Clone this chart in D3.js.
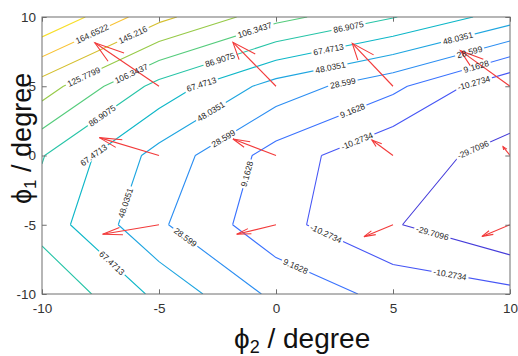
<!DOCTYPE html>
<html><head><meta charset="utf-8">
<script src="https://cdn.jsdelivr.net/npm/d3@7"></script>
<style>
body{margin:0;background:#fff}
svg{display:block}
text{font-family:"Liberation Sans",Arial,Helvetica,sans-serif}
</style>
</head><body>
<svg id="c" width="518" height="356"></svg>
<script>
// ---------- data ----------
const xGrid = [-10, -5, 0, 5, 10];
const yGrid = [-10, -5, 0, 5, 10];
// grid values, one row per yGrid value (ascending y), columns follow xGrid
const zRowYm10 = [104.8, 62.6, 23.75, 2.9, -4.55];
const zRowYm5  = [79, 31.5, -4, -28, -49.1458];
const zRowY0   = [88, 41, 1, -28, -31];
const zRowY5   = [136, 80, 40, 14.2, -27];
const zRowY10  = [203.52, 151, 113, 88, 58];
const zRows = [zRowYm10, zRowYm5, zRowY0, zRowY5, zRowY10];

const levels = [-29.7096, -10.2734, 9.1628, 28.599, 48.0351, 67.4713, 86.9075, 106.3437, 125.7799, 145.216, 164.6522, 184.0884];
const levelText = ["-29.7096", "-10.2734", "9.1628", "28.599", "48.0351", "67.4713", "86.9075", "106.3437", "125.7799", "145.216", "164.6522", "184.0884"];
const zMin = -49.1458, zMax = 203.52;

// contour labels: level index and approximate anchor (data units)
const labelLevel = [10, 9, 8, 7, 6, 5, 6, 5, 4, 3, 7, 6, 5, 4, 3, 2, 4, 3, 2, 1, 1, 0, 2, 4, 3, 5, 1, 2, 0, 1];
const labelX = [-7.82, -6.11, -8.18, -6.11, -7.45, -7.74, -2.39, -3.18, -2.82, -2.25, -0.90, 3.08, 2.22, 2.29, 2.86, 3.29, 7.79, 8.29, 8.58, 8.5, 3.50, 8.49, -1.32, -6.38, -3.96, -7.09, 2.08, 0.80, 6.64, 7.42];
const labelY = [8.63, 8.70, 5.55, 5.67, 2.92, -0.09, 6.9, 5.09, 3.29, 1.24, 9.01, 9.42, 7.86, 6.66, 5.21, 3.16, 8.34, 7.38, 6.30, 4.97, 0.88, 0.16, -1.29, -3.45, -6.1, -7.91, -5.86, -8.14, -5.86, -8.75];

// quiver arrows
const arrowX = [-5, -5, -5, 0, 0, 0, 5, 5, 5, 10, 10, 10];
const arrowY = [5, 0, -5, 5, 0, -5, 5, 0, -5, 5, 0, -5];
const arrowU = [-2.74, -2.55, -2.41, -1.84, -1.84, -1.68, -1.74, -0.90, -1.24, -2.12, -0.30, -1.20];
const arrowV = [3.14, 1.29, -0.69, 3.17, 1.19, -0.69, 3.10, 1.12, -0.86, 2.57, 0.64, -0.84];

const xTicks = [-10, -5, 0, 5, 10];
const yTicks = [-10, -5, 0, 5, 10];
const xTickLabels = ["-10", "-5", "0", "5", "10"];
const yTickLabels = ["-10", "-5", "0", "5", "10"];

// parula colormap samples (MATLAB rows 1,4,8,...,64)
const parulaRows = [1, 4, 8, 12, 16, 20, 24, 28, 32, 36, 40, 44, 48, 52, 56, 60, 64];
const parulaHex = ["#3e26a8", "#4332cb", "#4747eb", "#465dfa", "#3875fe", "#2d8cf3", "#23a0e5", "#12b1d6", "#0bbdbc",
                   "#31c69f", "#57cc7a", "#8fcb4e", "#c5c22a", "#efba36", "#fec934", "#f5e327", "#f9fb15"];

// ---------- layout ----------
const L = 42, R = 510, T = 17, B = 294;
const svg = d3.select("#c");
const x = d3.scaleLinear().domain([-10, 10]).range([L, R]);
const y = d3.scaleLinear().domain([-10, 10]).range([B, T]);

const parula = d3.scaleLinear()
  .domain(parulaRows.map(r => (r - 1) / 63))
  .range(parulaHex)
  .interpolate(d3.interpolateRgb);
const colorOf = v => parula((v - zMin) / (zMax - zMin));

// ---------- marching squares ----------
function contourSegments(level) {
  const segs = [];
  for (let j = 0; j < yGrid.length - 1; j++) {
    for (let i = 0; i < xGrid.length - 1; i++) {
      const c = [[i, j], [i + 1, j], [i + 1, j + 1], [i, j + 1]];
      const pts = [];
      for (let e = 0; e < 4; e++) {
        const [ai, aj] = c[e], [bi, bj] = c[(e + 1) % 4];
        const va = zRows[aj][ai] - level, vb = zRows[bj][bi] - level;
        if ((va < 0) !== (vb < 0)) {
          const t = va / (va - vb);
          pts.push([xGrid[ai] + t * (xGrid[bi] - xGrid[ai]), yGrid[aj] + t * (yGrid[bj] - yGrid[aj])]);
        }
      }
      if (pts.length === 2) segs.push([pts[0], pts[1]]);
      else if (pts.length === 4) {
        const center = (zRows[j][i] + zRows[j][i + 1] + zRows[j + 1][i + 1] + zRows[j + 1][i]) / 4 - level;
        const c0 = zRows[j][i] - level;
        if ((center < 0) === (c0 < 0)) { segs.push([pts[0], pts[1]]); segs.push([pts[2], pts[3]]); }
        else { segs.push([pts[3], pts[0]]); segs.push([pts[1], pts[2]]); }
      }
    }
  }
  return segs;
}
const segsByLevel = levels.map(contourSegments);

// ---------- defs ----------
const defs = svg.append("defs");
defs.append("clipPath").attr("id", "plotclip")
  .append("rect").attr("x", L).attr("y", T).attr("width", R - L).attr("height", B - T);
const mask = defs.append("mask").attr("id", "lblmask").attr("maskUnits", "userSpaceOnUse")
  .attr("x", 0).attr("y", 0).attr("width", 518).attr("height", 356);
mask.append("rect").attr("x", 0).attr("y", 0).attr("width", 518).attr("height", 356).attr("fill", "#fff");

// ---------- contour lines ----------
const line = d3.line().x(d => x(d[0])).y(d => y(d[1]));
const gPlot = svg.append("g").attr("clip-path", "url(#plotclip)");
const gLines = gPlot.append("g").attr("mask", "url(#lblmask)");
levels.forEach((lv, k) => {
  const dstr = segsByLevel[k].map(s => line(s)).join("");
  if (!dstr) return;
  gLines.append("path").attr("d", dstr).attr("fill", "none")
    .attr("stroke", colorOf(lv)).attr("stroke-width", 1.1).attr("stroke-linejoin", "round");
});

// ---------- contour labels ----------
const gLbl = svg.append("g");
const fs = 8.5;
labelLevel.forEach((k, n) => {
  const ax = x(labelX[n]), ay = y(labelY[n]);
  let best = null;
  segsByLevel[k].forEach(s => {
    const x1 = x(s[0][0]), y1 = y(s[0][1]), x2 = x(s[1][0]), y2 = y(s[1][1]);
    const dx = x2 - x1, dy = y2 - y1, len2 = dx * dx + dy * dy || 1;
    let t = ((ax - x1) * dx + (ay - y1) * dy) / len2;
    t = Math.max(0, Math.min(1, t));
    const px = x1 + t * dx, py = y1 + t * dy;
    const d2 = (px - ax) ** 2 + (py - ay) ** 2;
    if (!best || d2 < best.d2) best = {d2, px, py, ang: Math.atan2(dy, dx) * 180 / Math.PI};
  });
  if (!best) return;
  let ang = best.ang;
  if (ang > 90) ang -= 180;
  if (ang < -90) ang += 180;
  const t = gLbl.append("text")
    .attr("transform", `translate(${best.px},${best.py}) rotate(${ang})`)
    .attr("text-anchor", "middle").attr("dy", "0.35em")
    .attr("font-size", fs).attr("fill", "#262626")
    .text(levelText[k]);
  const w = t.node().getComputedTextLength();
  mask.append("rect")
    .attr("transform", `translate(${best.px},${best.py}) rotate(${ang})`)
    .attr("x", -w / 2 - 2).attr("y", -fs * 0.45).attr("width", w + 4).attr("height", fs * 0.9)
    .attr("fill", "#000");
});

// ---------- quiver ----------
const alpha = 0.33, beta = 0.33;
const gArr = gPlot.append("g").attr("stroke", "#f23a3a").attr("stroke-width", 1.1).attr("fill", "none");
arrowX.forEach((x0, n) => {
  const y0 = arrowY[n], u = arrowU[n], v = arrowV[n];
  const hx = x0 + u, hy = y0 + v;
  gArr.append("path").attr("d", line([[x0, y0], [hx, hy]]));
  const b1 = [hx - alpha * (u + beta * v), hy - alpha * (v - beta * u)];
  const b2 = [hx - alpha * (u - beta * v), hy - alpha * (v + beta * u)];
  gArr.append("path").attr("d", line([b1, [hx, hy], b2]));
});

// ---------- axes ----------
const tickLen = 4.7;
const axB = svg.append("g").attr("transform", `translate(0,${B})`)
  .call(d3.axisBottom(x).tickValues(xTicks).tickFormat((d, i) => xTickLabels[i]).tickSizeInner(-tickLen).tickSizeOuter(0).tickPadding(9));
const axT = svg.append("g").attr("transform", `translate(0,${T})`)
  .call(d3.axisTop(x).tickValues(xTicks).tickFormat("").tickSizeInner(-tickLen).tickSizeOuter(0));
const axL = svg.append("g").attr("transform", `translate(${L},0)`)
  .call(d3.axisLeft(y).tickValues(yTicks).tickFormat((d, i) => yTickLabels[i]).tickSizeInner(-tickLen).tickSizeOuter(0).tickPadding(6));
const axR = svg.append("g").attr("transform", `translate(${R},0)`)
  .call(d3.axisRight(y).tickValues(yTicks).tickFormat("").tickSizeInner(-tickLen).tickSizeOuter(0));
[axB, axT, axL, axR].forEach(g => {
  g.select(".domain").remove();
  g.selectAll(".tick line").attr("stroke", "#6e6e6e");
  g.selectAll(".tick text").attr("fill", "#333").attr("font-size", 13.5)
    .attr("font-family", '"Liberation Sans",Arial,sans-serif');
});
svg.append("rect").attr("x", L).attr("y", T).attr("width", R - L).attr("height", B - T)
  .attr("fill", "none").attr("stroke", "#6e6e6e").attr("stroke-width", 1);

// ---------- axis titles ----------
const xt = svg.append("text").attr("x", 234).attr("y", 348).attr("font-size", 28).attr("fill", "#111");
xt.append("tspan").text("\u03D5");
xt.append("tspan").attr("font-size", 18).attr("dy", 5).text("2");
xt.append("tspan").attr("dy", -5).text(" / degree");

const yt = svg.append("text").attr("transform", "translate(31,204) rotate(-90)").attr("font-size", 27).attr("fill", "#111");
yt.append("tspan").text("\u03D5");
yt.append("tspan").attr("font-size", 17).attr("dy", 5).text("1");
yt.append("tspan").attr("dy", -5).text(" / degree");
</script>
</body></html>
